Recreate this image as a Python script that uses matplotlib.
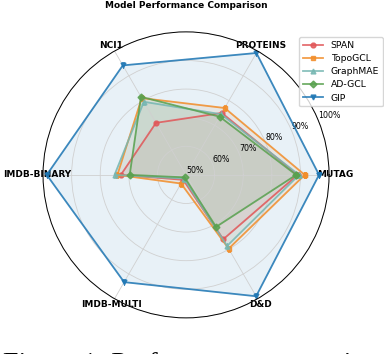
import matplotlib
matplotlib.use('Agg')
import matplotlib.pyplot as plt
import numpy as np

# datasets, counter-clockwise starting at 3 o'clock
datasets = ["MUTAG", "PROTEINS", "NCI1", "IMDB-BINARY", "IMDB-MULTI", "D&D"]

# accuracy (%)
span = [89.0, 75.0, 71.0, 72.8, 52.0, 76.0]
topogcl = [91.5, 77.0, 81.0, 74.0, 53.5, 79.8]
graphmae = [89.5, 74.5, 79.5, 75.0, 51.5, 78.7]
adgcl = [88.5, 73.5, 81.5, 69.7, 51.0, 71.0]
gip = [96.5, 99.2, 94.2, 98.7, 93.3, 99.0]

models = ["SPAN", "TopoGCL", "GraphMAE", "AD-GCL", "GIP"]
scores = [span, topogcl, graphmae, adgcl, gip]
colors = ["#e15759", "#f28e2b", "#76b7b2", "#59a14f", "#1f77b4"]
markers = ["o", "s", "^", "D", "v"]

rticks = [50, 60, 70, 80, 90, 100]

angles = np.linspace(0, 2*np.pi, len(datasets), endpoint=False)
closed = np.concatenate([angles, angles[:1]])

fig = plt.figure(figsize=(3.84, 3.54), dpi=100)
ax = fig.add_axes([0.112, 0.102, 0.745, 0.808], polar=True)

for name, vals, c, m in zip(models, scores, colors, markers):
    v = np.concatenate([vals, vals[:1]])
    ax.plot(closed, v, color=c, marker=m, markersize=3.5, linewidth=1.3,
            markerfacecolor=c, markeredgecolor=c, alpha=0.85, label=name)
    ax.fill(closed, v, color=c, alpha=0.1)

ax.set_ylim(50, 100)
ax.set_yticks(rticks)
ax.set_yticklabels(["%d%%" % t for t in rticks], fontsize=5.7)
ax.set_xticks(angles)
ax.set_xticklabels(datasets, fontsize=6.5, fontweight="bold")
ax.tick_params(axis="x", pad=-6)
ax.grid(True, color="#d0d0d0", linewidth=0.6)
ax.spines["polar"].set_linewidth(0.7)

ax.set_title("Model Performance Comparison", fontsize=6.5, fontweight="bold", pad=17)

fig.legend(loc="upper right", bbox_to_anchor=(0.997, 0.895), fontsize=6.7,
           handlelength=2.2, labelspacing=0.45, borderpad=0.4, borderaxespad=0)

# caption of the paper figure, cut off at the bottom of the crop
fig.text(0.008, -0.047, "Figure 1: Performance comparison", fontsize=20,
         family="Liberation Serif", va="baseline", ha="left")

fig.savefig("out.png", dpi=100)
